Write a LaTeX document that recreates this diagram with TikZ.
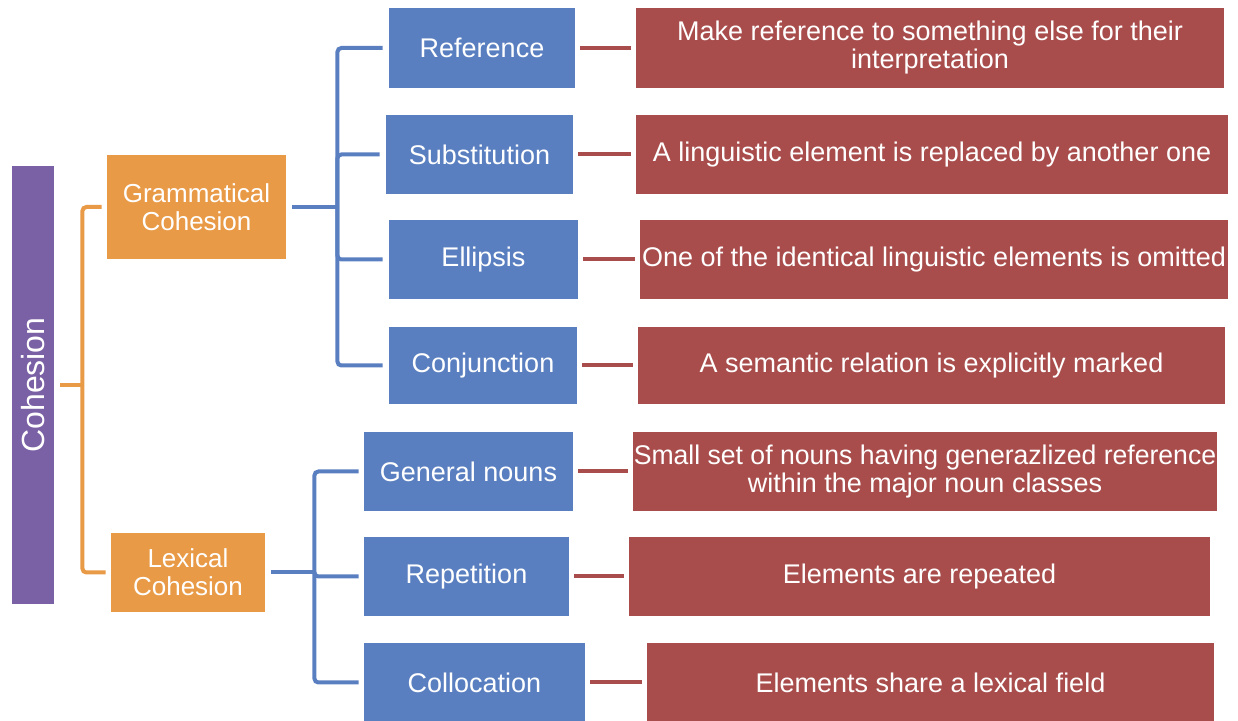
\documentclass[tikz,border=0pt]{standalone}
\usepackage{fontspec}
\setmainfont{Liberation Sans}
\usepackage{tikz}
\usetikzlibrary{
  positioning,
}
\definecolor{cohpurple}{HTML}{7A60A4}
\definecolor{cohorange}{HTML}{E99A46}
\definecolor{cohblue}{HTML}{5A7FC0}
\definecolor{cohred}{HTML}{A84D4C}
\tikzset{
  root/.style={
    rectangle,
    minimum width=21pt,
    minimum height=219pt,
    inner sep=0pt,
    text=white,
    fill=cohpurple,
    font=\fontsize{16}{18}\selectfont
  },
  kind/.style={
    rectangle,
    inner sep=0pt,
    align=center,
    text=white,
    fill=cohorange,
    font=\fontsize{13}{14}\selectfont
  },
  device/.style={
    rectangle,
    inner sep=0pt,
    minimum height=39.5pt,
    text centered,
    text=white,
    fill=cohblue,
    font=\fontsize{13.5}{14}\selectfont
  },
  meaning/.style={
    rectangle,
    inner sep=0pt,
    minimum height=39.5pt,
    align=center,
    text=white,
    fill=cohred,
    font=\fontsize{13.5}{14}\selectfont
  },
  oline/.style={
    draw=cohorange,
    line width=2pt,
    rounded corners=2pt,
  },
  bline/.style={
    draw=cohblue,
    line width=2pt,
    rounded corners=2pt,
  },
  rline/.style={
    draw=cohred,
    line width=2pt,
    shorten <=2.5pt,
    shorten >=2.5pt,
  },
}

\begin{document}
\begin{tikzpicture}[x=0.5pt, y=-0.5pt]
  \useasboundingbox (0,0) rectangle (1238,721);

  % Root and kinds
  \node (coh) [root] at (33,385) {\rotatebox{90}{Cohesion}};
  \node (gram) [kind, minimum width=89.5pt, minimum height=52pt] at (196.5,207) {Grammatical\\Cohesion};
  \node (lex) [kind, minimum width=77pt, minimum height=39.5pt] at (188,572.5) {Lexical\\Cohesion};

  % Grammatical devices
  \node (ref) [device, minimum width=93pt, minimum height=40pt] at (482,48) {Reference};
  \node (sub) [device, minimum width=93.5pt] at (479.5,154.5) {Substitution};
  \node (ell) [device, minimum width=94.5pt] at (483.5,259.5) {Ellipsis};
  \node (conj) [device, minimum width=94pt, minimum height=38.5pt] at (483,365.5) {Conjunction};

  % Lexical devices
  \node (gen) [device, minimum width=104.5pt] at (468.5,471.5) {General nouns};
  \node (rep) [device, minimum width=102.5pt] at (466.5,576.5) {Repetition};
  \node (coll) [device, minimum width=110.5pt] at (474.5,682.5) {Collocation};

  % Meanings
  \node (ref_d) [meaning, minimum width=294pt, minimum height=40pt] at (930,48) {Make reference to something else for their\\interpretation};
  \node (sub_d) [meaning, minimum width=296pt] at (932,154.5) {A linguistic element is replaced by another one};
  \node (ell_d) [meaning, minimum width=294pt] at (934,259.5) {One of the identical linguistic elements is omitted};
  \node (conj_d) [meaning, minimum width=293.5pt, minimum height=38.5pt] at (931.5,365.5) {A semantic relation is explicitly marked};
  \node (gen_d) [meaning, minimum width=292pt] at (925,471.5) {\scalebox{0.985}[1]{Small set of nouns having generazlized reference}\\within the major noun classes};
  \node (rep_d) [meaning, minimum width=290.5pt] at (919.5,576.5) {Elements are repeated};
  \node (coll_d) [meaning, minimum width=283.5pt] at (930.5,682.5) {Elements share a lexical field};

  % Brackets
  \draw [oline] ([xshift=3pt]coh.east) -- ++(22,0) coordinate (cb);
  \draw [oline] ([xshift=-2.5pt]gram.west) -| (cb) |- ([xshift=-2.5pt]lex.west);
  \draw [bline] ([xshift=3pt]gram.east) -- ++(45,0) coordinate (gb);
  \draw [bline] ([xshift=-3pt]ref.west) -| (gb) |- ([xshift=-3pt]conj.west);
  \draw [bline] (gb) |- ([xshift=-3pt]sub.west);
  \draw [bline] (gb) |- ([xshift=-3pt]ell.west);
  \draw [bline] ([xshift=3pt]lex.east) -- ++(43,0) coordinate (lb);
  \draw [bline] ([xshift=-2.5pt]gen.west) -| (lb) |- ([xshift=-2.5pt]coll.west);
  \draw [bline] (lb) |- ([xshift=-2.5pt]rep.west);

  % Arrows
  \draw [rline] (ref) -- (ref_d);
  \draw [rline] (sub) -- (sub_d);
  \draw [rline] (ell) -- (ell_d);
  \draw [rline] (conj) -- (conj_d);
  \draw [rline] (gen) -- (gen_d);
  \draw [rline] (rep) -- (rep_d);
  \draw [rline] (coll) -- (coll_d);

\end{tikzpicture}
\end{document}
